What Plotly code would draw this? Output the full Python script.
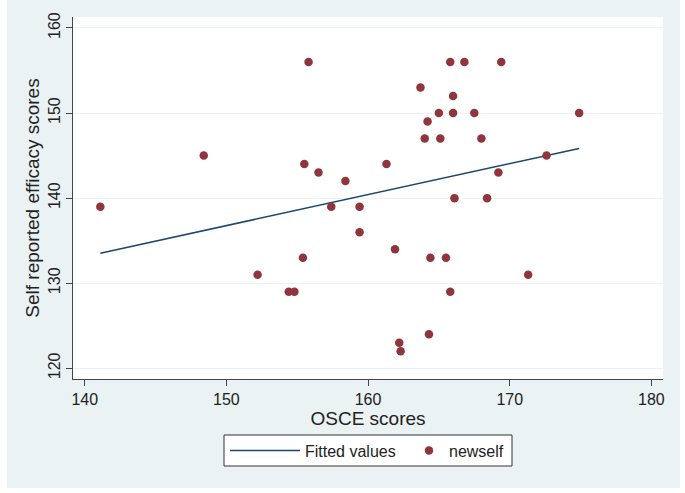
import numpy as np
import plotly.graph_objects as go

# OSCE scores (x) and self reported efficacy scores (y)
osce = [141.1, 148.4, 155.8, 155.5, 156.5, 158.4, 157.4, 159.4, 159.4, 155.4,
        152.2, 154.4, 154.8, 161.3, 165.8, 166.8, 169.4, 163.7, 166.0, 165.0,
        166.0, 167.5, 174.9, 164.2, 164.0, 165.1, 168.0, 172.6, 169.2, 166.1,
        168.4, 161.9, 164.4, 165.5, 171.3, 165.8, 164.3, 162.2, 162.3]
newself = [139, 145, 156, 144, 143, 142, 139, 139, 136, 133,
           131, 129, 129, 144, 156, 156, 156, 153, 152, 150,
           150, 150, 150, 149, 147, 147, 147, 145, 143, 140,
           140, 134, 133, 133, 131, 129, 124, 123, 122]

x_ticks = [140, 150, 160, 170, 180]
y_ticks = [120, 130, 140, 150, 160]

# linear fit, evaluated at the data min and max like Stata's lfit
slope, intercept = np.polyfit(osce, newself, 1)
fit_x = [min(osce), max(osce)]
fit_y = [intercept + slope * v for v in fit_x]

bg = '#EAF2F3'
font = 'Liberation Sans, Arial, sans-serif'


def px_x(p):
    # pixel column -> paper x (plot area spans 73..663)
    return (p - 73) / 590


def px_y(p):
    # pixel row -> paper y (plot area spans 17..379)
    return (379 - p) / 362


fig = go.Figure()
fig.add_trace(go.Scatter(x=fit_x, y=fit_y, mode='lines', name='Fitted values',
                         line=dict(color='#1A476F', width=1.5), legend='legend'))
fig.add_trace(go.Scatter(x=osce, y=newself, mode='markers', name='newself',
                         marker=dict(color='#90353B', size=8.5), legend='legend2'))

# white strips round the grey graph region
for x0, y0, x1, y1 in [(0, 0, 7, 493), (680, 0, 685, 493), (0, 488, 685, 493)]:
    fig.add_shape(type='rect', xref='paper', yref='paper',
                  x0=px_x(x0), x1=px_x(x1), y0=px_y(y1), y1=px_y(y0),
                  fillcolor='white', line_width=0, layer='below')

# one box holding both legend entries
fig.add_shape(type='rect', xref='paper', yref='paper',
              x0=px_x(224), x1=px_x(512), y0=px_y(466), y1=px_y(435),
              fillcolor='white', line=dict(color='#333', width=1), layer='above')

leg = dict(orientation='h', yanchor='middle', y=px_y(450.5), xanchor='left',
           bgcolor='rgba(0,0,0,0)', borderwidth=0, font=dict(size=16))

fig.update_layout(
    width=685, height=493,
    margin=dict(l=73, r=22, t=17, b=114),
    paper_bgcolor=bg, plot_bgcolor='white',
    font=dict(family=font, size=16, color='#222'),
    showlegend=True,
    legend=dict(leg, x=px_x(225), itemwidth=70),
    legend2=dict(leg, x=px_x(409), itemwidth=30),
)
fig.update_xaxes(range=[139.17, 180.82], tickvals=x_ticks, showgrid=False,
                 zeroline=False, showline=True, linecolor='#444', linewidth=1,
                 ticks='outside', ticklen=6, tickcolor='#444', automargin=False,
                 title=dict(text='OSCE scores', standoff=0))
fig.update_yaxes(range=[118.74, 161.29], tickvals=y_ticks, tickangle=-90,
                 showgrid=True, gridcolor=bg, gridwidth=1,
                 zeroline=False, showline=True, linecolor='#444', linewidth=1,
                 ticks='outside', ticklen=6, tickcolor='#444', automargin=False,
                 title=dict(text='Self reported efficacy scores', standoff=0))

# drop the browser's default 8px body margin so the figure sits at the corner
fig.write_html('out.html', config={'displayModeBar': False},
               post_script="document.body.style.margin='0';")
